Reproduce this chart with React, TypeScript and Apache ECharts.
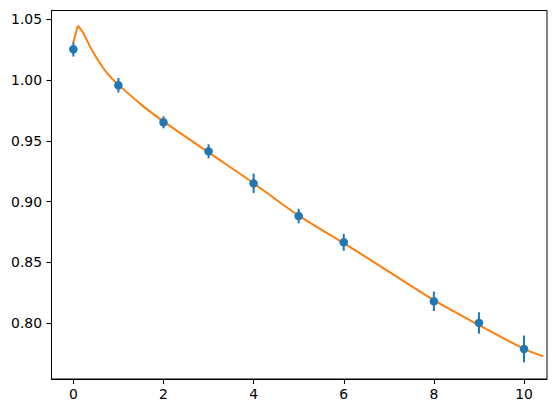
import React, { useEffect, useRef } from "react";
import * as echarts from "echarts";

const xValues = [0, 1, 2, 3, 4, 5, 6, 8, 9, 10];
const yValues = [1.0253, 0.9957, 0.9653, 0.9414, 0.9151, 0.8882, 0.8666, 0.8181, 0.8003, 0.7789];
const yErrors = [0.006, 0.006, 0.005, 0.0058, 0.008, 0.006, 0.007, 0.008, 0.0088, 0.011];

const riseX = [0, 0.1];
const riseY = [1.031, 1.0447];
const fitX = [0.1, 0.222, 0.371, 0.52, 0.667, 0.816, 0.964, 1.5, 2, 3, 4, 5, 6, 7, 8, 9, 10, 10.43];
const fitY = [1.0447, 1.0385, 1.0275, 1.018, 1.0097, 1.0028, 0.9974, 0.98, 0.966, 0.9405, 0.9152, 0.8885, 0.866, 0.8425, 0.819, 0.7985, 0.779, 0.7728];

const xTicks = [0, 2, 4, 6, 8, 10];
const yTicks = [0.8, 0.85, 0.9, 0.95, 1.0, 1.05];

export default function App() {
  const ref = useRef<HTMLDivElement>(null);
  useEffect(() => {
    if (!ref.current) return;
    const chart = echarts.init(ref.current, undefined, { renderer: "svg" });
    const font = "DejaVu Sans";
    const blue = "#1f77b4";
    const orange = "#ff7f0e";
    chart.setOption({
      animation: false,
      backgroundColor: "#ffffff",
      grid: {
        left: 51.5,
        right: 9,
        top: 10.5,
        bottom: 34,
        show: true,
        borderColor: "#000",
        borderWidth: 1,
        backgroundColor: "transparent",
      },
      xAxis: {
        type: "value",
        min: -0.485,
        max: 10.51,
        splitLine: { show: false },
        axisLine: { show: true, onZero: false, lineStyle: { color: "#000", width: 1 } },
        axisTick: {
          show: true,
          customValues: xTicks,
          length: 5,
          inside: false,
          lineStyle: { color: "#000", width: 1.1 },
        },
        axisLabel: {
          customValues: xTicks,
          margin: 8,
          color: "#000",
          fontFamily: font,
          fontSize: 13.9,
          formatter: (v: number) => String(v),
        },
      },
      yAxis: {
        type: "value",
        min: 0.7542,
        max: 1.0572,
        splitLine: { show: false },
        axisLine: { show: true, onZero: false, lineStyle: { color: "#000", width: 1 } },
        axisTick: {
          show: true,
          customValues: yTicks,
          length: 5,
          inside: false,
          lineStyle: { color: "#000", width: 1.1 },
        },
        axisLabel: {
          customValues: yTicks,
          margin: 9.5,
          color: "#000",
          fontFamily: font,
          fontSize: 13.9,
          formatter: (v: number) => v.toFixed(2),
        },
      },
      series: [
        {
          type: "line",
          data: riseX.map((x, i) => [x, riseY[i]]),
          showSymbol: false,
          symbol: "none",
          lineStyle: { color: orange, width: 2 },
          z: 1,
        },
        {
          type: "line",
          data: fitX.map((x, i) => [x, fitY[i]]),
          showSymbol: false,
          symbol: "none",
          smooth: 0.3,
          lineStyle: { color: orange, width: 2 },
          z: 1,
        },
        {
          type: "custom",
          data: xValues.map((x, i) => [x, yValues[i], yErrors[i]]),
          encode: { x: 0, y: 1 },
          z: 2,
          renderItem: (params: any, api: any) => {
            const x = api.value(0);
            const y = api.value(1);
            const e = api.value(2);
            const lo = api.coord([x, y - e]);
            const hi = api.coord([x, y + e]);
            return {
              type: "line",
              shape: { x1: lo[0], y1: lo[1], x2: hi[0], y2: hi[1] },
              style: { stroke: blue, lineWidth: 2 },
            };
          },
        },
        {
          type: "scatter",
          data: xValues.map((x, i) => [x, yValues[i]]),
          symbol: "circle",
          symbolSize: 8.5,
          itemStyle: { color: blue, opacity: 1 },
          z: 3,
        },
      ],
    });
    return () => chart.dispose();
  }, []);
  return (
    <div
      ref={ref}
      style={{ position: "fixed", left: 0, top: 0, width: 556, height: 413, background: "#fff" }}
    />
  );
}
